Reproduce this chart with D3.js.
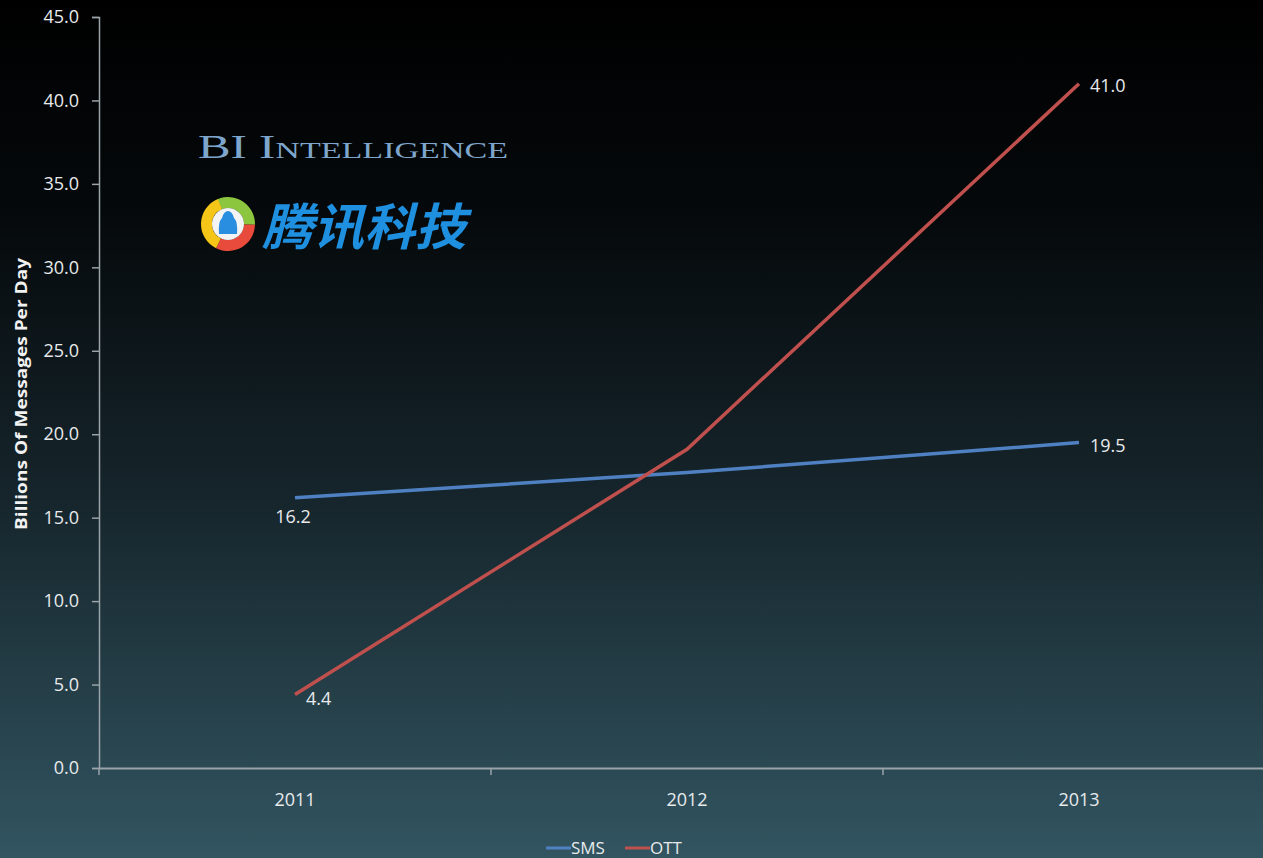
<!DOCTYPE html>
<html><head><meta charset="utf-8">
<script src="https://cdn.jsdelivr.net/npm/d3@7"></script>
<style>html,body{margin:0;padding:0;background:#000;overflow:hidden}</style>
</head><body>
<svg id="c" width="1263" height="858"></svg>
<script>
const categories = ["2011", "2012", "2013"];
const smsValues = [16.2, 17.7, 19.5];
const ottValues = [4.4, 19.1, 41.0];
const seriesNames = ["SMS", "OTT"];
const yTicks = [0, 5, 10, 15, 20, 25, 30, 35, 40, 45];

const W = 1263, H = 858;
const svg = d3.select("#c");
const defs = svg.append("defs");
const bg = defs.append("linearGradient").attr("id","bg").attr("x1",0).attr("y1",0).attr("x2",0).attr("y2",1);
bg.append("stop").attr("offset","0").attr("stop-color","#000000");
bg.append("stop").attr("offset","0.25").attr("stop-color","#05090b");
bg.append("stop").attr("offset","0.6").attr("stop-color","#17272e");
bg.append("stop").attr("offset","1").attr("stop-color","#325561");
svg.append("rect").attr("width",W).attr("height",H).attr("fill","url(#bg)");

const x = d3.scaleBand().domain(categories).range([99, 1275]);
const y = d3.scaleLinear().domain([0,45]).range([768, 17]);
const axisColor = "#9aa3a8";
const textColor = "#e8eaec";
const fontF = "'Open Sans', sans-serif";

// y axis
const ya = svg.append("g").attr("transform","translate(99,0)")
  .call(d3.axisLeft(y).tickValues(yTicks).tickFormat(d3.format(".1f")).tickSize(7).tickPadding(13));
ya.select(".domain").attr("stroke",axisColor).attr("stroke-width",1.5);
ya.selectAll(".tick line").attr("stroke",axisColor).attr("stroke-width",1.5);
ya.selectAll(".tick text").attr("fill",textColor).attr("font-family",fontF).attr("font-size",18);

// x axis
const xa = svg.append("g").attr("transform","translate(0,768)")
  .call(d3.axisBottom(x).tickSize(0).tickPadding(25));
xa.select(".domain").attr("stroke",axisColor).attr("stroke-width",2);
xa.selectAll(".tick text").attr("fill",textColor).attr("font-family",fontF).attr("font-size",18);
// boundary ticks
svg.append("g").selectAll("line").data(categories).join("line")
  .attr("x1",d=>x(d)).attr("x2",d=>x(d)).attr("y1",768).attr("y2",775)
  .attr("stroke",axisColor).attr("stroke-width",1.5);

// y label
svg.append("text").attr("transform","translate(27,394) rotate(-90)")
  .attr("text-anchor","middle").attr("fill","#f2f2f2")
  .attr("font-family",fontF).attr("font-weight","bold").attr("font-size",16)
  .attr("textLength",272).attr("lengthAdjust","spacingAndGlyphs")
  .text("Billions Of Messages Per Day");

// logo text
svg.append("text").attr("x",198).attr("y",158)
  .attr("fill","#7ea6cc").attr("font-family","'Liberation Serif', serif").attr("font-size",33)
  .attr("font-variant","small-caps").attr("textLength",310).attr("lengthAdjust","spacingAndGlyphs")
  .text("BI Intelligence");
svg.append("text").attr("x",262).attr("y",245)
  .attr("fill","#1f8fe0").attr("font-family","'Noto Sans CJK SC', sans-serif").attr("font-weight","bold")
  .attr("font-style","italic").attr("font-size",50).attr("textLength",204).attr("lengthAdjust","spacingAndGlyphs")
  .text("腾讯科技");
// logo circle
const lg = svg.append("g").attr("transform","translate(228,224)");
const arc = d3.arc().innerRadius(16).outerRadius(27);
const segs = [[-0.4,1.6,"#8cc63f"],[1.6,3.6,"#e84a3c"],[3.6,5.9,"#f5c518"]];
segs.forEach(s=>lg.append("path").attr("d",arc({startAngle:s[0],endAngle:s[1]})).attr("fill",s[2]));
lg.append("circle").attr("r",16).attr("fill","#f4f4f4");
lg.append("path").attr("d","M-9,10 Q-10,-2 -6,-6 Q-4,-13 0,-13 Q4,-13 6,-6 Q10,-2 9,10 Z").attr("fill","#2a8ee0");

// lines
const line = d3.line().x((d,i)=>x(categories[i])+x.bandwidth()/2).y(d=>y(d));
svg.append("path").datum(smsValues).attr("d",line).attr("fill","none").attr("stroke","#4f81c2").attr("stroke-width",3.5);
svg.append("path").datum(ottValues).attr("d",line).attr("fill","none").attr("stroke","#c0504d").attr("stroke-width",3.5);

const cx = i => x(categories[i]) + x.bandwidth()/2;
const lab = (t,xx,yy,anchor) => svg.append("text").attr("x",xx).attr("y",yy).attr("text-anchor",anchor||"start")
  .attr("fill",textColor).attr("font-family",fontF).attr("font-size",18).text(t);
lab(d3.format(".1f")(smsValues[0]), cx(0)-2, y(smsValues[0])+25, "middle");
lab(d3.format(".1f")(ottValues[0]), cx(0)+11, y(ottValues[0])+10);
lab(d3.format(".1f")(smsValues[2]), cx(2)+11, y(smsValues[2])+9);
lab(d3.format(".1f")(ottValues[2]), cx(2)+11, y(ottValues[2])+8);

// legend
const leg = svg.append("g").attr("transform","translate(546,848)");
[["SMS","#4f81c2",0],["OTT","#c0504d",79]].forEach(([n,c,o])=>{
  leg.append("line").attr("x1",o).attr("x2",o+25).attr("y1",0).attr("y2",0).attr("stroke",c).attr("stroke-width",3);
  leg.append("text").attr("x",o+25).attr("y",6).attr("fill",textColor)
    .attr("font-family",fontF).attr("font-size",17).text(n);
});
</script>
</body></html>
